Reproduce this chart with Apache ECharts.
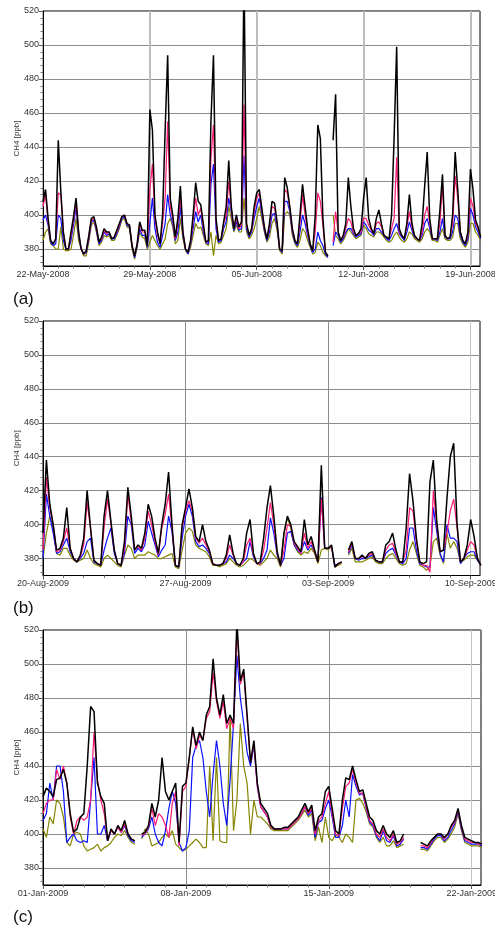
<!DOCTYPE html>
<html>
<head>
<meta charset="utf-8">
<script src="https://cdn.jsdelivr.net/npm/echarts@6/dist/echarts.min.js"></script>
<style>
  html, body { margin: 0; padding: 0; background: #fff; }
  #main { width: 495px; height: 929px; }
</style>
</head>
<body>
<div id="main"></div>
<script>
// Valores CH4 [ppb], un punto cada 4 horas desde la fecha de inicio de cada panel
const stepHours = 4;
const yTicks = [380, 400, 420, 440, 460, 480, 500, 520];

// ---- panel (a) ----
const aStart = "2008-05-22";
const aWeekTicks = ["2008-05-22", "2008-05-29", "2008-06-05", "2008-06-12", "2008-06-19"];
const aBlack = [
  408,415,398,385,383,386, 444,414,390,380,380,390, 399,410,390,380,377,379, 388,398,399,393,384,387,
  392,390,390,386,387,391, 395,399,400,395,394,382, 376,383,396,391,391,382, 462,450,400,390,383,400,
  450,494,410,400,387,398, 417,390,380,378,385,400, 419,408,406,395,384,385, 455,494,398,385,386,396,
  405,432,405,392,400,393, 396,545,395,388,392,405, 413,415,404,393,386,395, 408,407,396,380,379,422,
  416,405,392,385,383,400, 418,405,392,383,379,400, 453,445,398,378,376,null, 444,471,390,385,388,395,
  422,405,392,388,389,392, 410,422,398,392,389,398, 403,395,388,387,386,400, 446,499,392,388,386,395,
  412,395,388,386,385,395, 417,437,398,386,386,386, 403,424,388,386,387,400, 437,415,390,385,383,390,
  427,415,397,393,387
];
const aMagenta = [
  405,412,396,385,383,386, 413,412,390,380,380,388, 397,408,390,380,377,379, 387,397,398,392,384,386,
  391,389,390,386,387,390, 394,399,400,395,394,382, 376,383,395,390,390,382, 415,430,398,388,383,395,
  410,455,405,398,386,395, 410,390,380,378,384,397, 410,400,404,393,384,385, 433,453,396,385,386,395,
  400,420,404,392,398,392, 394,465,394,388,391,402, 410,413,403,392,386,393, 405,404,395,380,379,415,
  413,404,391,385,383,395, 412,400,390,383,379,390, 413,408,394,378,376,null, 384,402,390,385,387,392,
  398,396,390,388,389,390, 398,398,394,391,389,395, 396,393,388,387,386,392, 398,434,390,388,386,393,
  402,393,388,386,385,390, 400,405,395,386,386,386, 395,418,388,386,387,395, 423,410,390,385,383,388,
  410,405,395,392,387
];
const aBlue = [
  397,400,394,384,382,383, 400,398,385,380,380,385, 394,405,388,380,377,378, 386,396,397,391,383,385,
  390,388,389,386,386,389, 393,398,399,394,393,382, 375,382,392,388,388,381, 395,410,392,384,381,388,
  395,412,400,395,385,390, 405,388,380,377,383,392, 402,396,400,390,384,383, 418,430,392,384,385,392,
  396,410,402,391,396,391, 392,435,392,387,390,398, 405,410,401,391,385,390, 400,401,393,380,378,408,
  408,402,390,384,382,390, 400,395,388,382,378,380, 390,385,382,377,375,null, 382,390,388,384,386,390,
  392,392,389,387,388,389, 396,394,391,390,388,392, 392,390,388,386,385,388, 392,395,389,387,385,390,
  396,391,387,386,385,388, 395,398,392,386,386,385, 390,398,387,386,386,390, 400,398,388,384,382,386,
  404,400,393,390,386
];
const aOlive = [
  385,390,392,383,382,380, 380,393,380,379,379,380, 388,398,385,380,376,376, 384,394,396,390,382,384,
  388,387,388,385,385,388, 392,397,398,393,392,380, 374,381,390,387,386,380, 384,388,385,382,380,383,
  386,395,398,393,383,385, 398,386,379,377,381,388, 395,392,393,388,383,382, 390,376,388,383,384,388,
  392,405,398,390,394,390, 390,410,390,386,388,392, 398,405,398,390,384,387, 395,398,391,379,377,400,
  402,400,388,383,381,385, 392,390,385,381,377,378, 384,382,378,376,375,null, 400,388,386,383,385,388,
  392,390,388,386,387,388, 394,392,389,388,387,390, 390,389,387,385,384,385, 388,390,387,385,384,386,
  390,389,386,385,384,386, 390,392,390,385,385,384, 388,392,386,385,385,387, 395,395,386,383,381,384,
  395,395,390,388,385
];

// ---- panel (b) ----
const bStart = "2009-08-20";
const bWeekTicks = ["2009-08-20", "2009-08-27", "2009-09-03", "2009-09-10"];
const bBlack = [
  395,438,412,400,385,386, 392,410,386,380,378,382, 392,420,398,379,377,376, 405,420,402,385,377,376,
  390,422,405,385,388,386, 395,412,405,392,383,400, 412,431,400,376,375,400, 410,421,410,393,390,400,
  390,385,377,376,376,377, 382,394,383,377,376,380, 395,403,383,377,378,392, 410,423,405,384,376,395,
  405,400,390,387,384,403, 388,393,385,378,435,386, 386,388,375,377,378,null, 385,390,380,380,382,380,
  383,384,379,378,378,388, 390,395,385,378,378,398, 430,414,392,378,377,378, 425,438,402,384,385,415,
  440,448,400,378,380,388, 403,393,380,376
];
const bMagenta = [
  385,428,410,400,384,385, 390,398,386,380,378,381, 388,413,398,379,377,376, 398,415,401,385,377,376,
  386,418,402,385,387,385, 392,408,400,390,382,398, 406,418,398,376,375,398, 408,414,408,392,389,392,
  388,384,377,376,376,377, 380,388,382,377,376,378, 388,392,382,377,377,385, 398,413,400,383,376,385,
  400,399,389,386,383,395, 386,390,384,378,415,386, 386,387,375,377,378,null, 384,389,380,380,381,380,
  382,383,379,378,378,385, 388,389,383,378,378,385, 410,408,390,378,376,376, 372,420,400,384,385,395,
  408,415,398,378,380,385, 390,388,380,376
];
const bBlue = [
  380,418,405,395,383,384, 388,392,384,380,378,380, 383,390,392,378,377,376, 385,392,398,383,377,376,
  383,405,400,383,386,384, 388,402,395,388,381,385, 388,405,396,376,375,392, 405,412,405,390,387,388,
  386,383,377,376,376,377, 378,382,380,377,376,378, 380,390,381,377,377,380, 385,404,395,382,376,380,
  395,396,388,385,383,390, 385,388,384,378,416,386, 386,387,376,377,378,null, 383,388,380,379,380,380,
  381,382,379,378,378,383, 385,386,382,378,377,380, 398,398,385,377,376,375, 375,410,396,383,378,400,
  392,392,390,377,380,383, 384,384,379,376
];
const bOlive = [
  380,395,405,398,383,382, 386,386,382,379,378,379, 380,385,380,377,376,375, 380,382,380,378,376,375,
  382,388,386,380,382,382, 382,384,383,382,380,380, 381,382,383,375,374,385, 395,398,396,388,386,385,
  384,381,376,376,375,376, 377,380,378,376,375,376, 378,380,379,377,376,378, 380,385,382,380,375,395,
  404,398,388,384,382,384, 383,386,383,377,385,386, 385,387,375,376,377,null, 382,386,378,378,378,379,
  380,381,378,377,377,380, 382,383,380,377,376,377, 385,390,383,376,375,373, 375,390,392,382,377,395,
  386,390,386,378,379,381, 382,382,379,376
];

// ---- panel (c) ----
const cStart = "2009-01-01";
const cWeekTicks = ["2009-01-01", "2009-01-08", "2009-01-15", "2009-01-22"];
const cBlack = [
  422,427,425,422,432,433, 438,430,412,401,403,410, 412,440,475,472,430,422, 418,396,403,400,405,402,
  408,400,397,396,null,400, 401,405,418,410,420,445, 425,420,425,430,395,428, 430,445,463,452,460,455,
  470,475,503,480,470,482, 465,470,465,525,490,497, 470,442,455,430,418,415, 412,405,403,403,403,404,
  404,406,408,410,414,418, 413,417,402,410,412,425, 428,415,402,400,420,433, 432,440,432,425,426,418,
  410,408,402,400,405,400, 398,402,395,396,400,null, null,null,null,395,394,393, 396,398,400,400,398,400,
  405,408,415,405,398,397, 396,395,395,394
];
const cMagenta = [
  412,418,420,420,438,432, 440,430,410,400,408,410, 408,410,420,460,432,420, 412,396,402,400,404,401,
  406,400,397,396,null,399, 400,404,415,405,412,410, 405,398,418,425,393,425, 428,445,462,450,458,455,
  468,472,495,478,468,478, 462,468,462,520,488,495, 468,442,453,428,416,413, 410,404,403,403,403,403,
  403,405,407,409,412,416, 412,415,400,408,410,418, 425,412,400,399,415,428, 430,438,430,424,424,416,
  408,406,400,398,403,398, 396,400,394,395,398,null, null,null,null,393,393,392, 395,398,400,400,397,400,
  404,407,414,404,397,396, 395,395,394,394
];
const cBlue = [
  408,412,430,420,440,440, 425,395,398,400,396,395, 396,395,420,445,400,400, 405,396,402,400,404,401,
  405,399,396,395,null,398, 400,403,410,400,395,393, 402,415,425,418,395,390, 392,402,445,452,455,445,
  425,410,435,455,440,418, 405,432,465,505,480,465, 448,440,452,428,416,413, 410,404,403,403,403,403,
  403,405,407,409,412,416, 411,414,398,407,408,415, 420,410,398,398,405,420, 410,435,428,423,424,415,
  407,405,399,396,402,396, 395,399,393,394,397,null, null,null,null,392,392,391, 394,397,399,399,396,398,
  402,406,413,403,396,395, 394,394,394,393
];
const cOlive = [
  403,398,410,406,420,418, 410,395,393,400,401,400, 393,390,391,392,394,390, 392,393,395,398,400,399,
  402,398,395,394,null,397, 403,400,393,394,395,398, 400,398,402,394,392,390, 391,393,395,397,395,392,
  392,440,396,445,396,395, 395,470,402,420,465,440, 430,400,420,410,410,408, 406,403,402,402,402,402,
  402,404,406,408,411,414, 410,412,396,404,395,410, 398,396,400,398,395,400, 398,395,420,421,418,413,
  406,404,398,395,398,393, 393,396,392,393,394,null, null,null,null,391,391,390, 393,396,398,398,395,397,
  400,404,412,402,395,394, 393,393,393,392
];

const seriesColors = ["#858500", "#0a10ff", "#ff1a75", "#000000"];
const seriesWidths = [1.2, 1.2, 1.2, 1.5];
const HOUR = 3600000;
const DAY = 24 * HOUR;
const months = ["Jan","Feb","Mar","Apr","May","Jun","Jul","Aug","Sep","Oct","Nov","Dec"];

const toMs = (s) => {
  const p = s.split("-").map(Number);
  return Date.UTC(p[0], p[1] - 1, p[2]);
};
const fmtDate = (v) => {
  const d = new Date(v);
  return String(d.getUTCDate()).padStart(2, "0") + "-" + months[d.getUTCMonth()] + "-" + d.getUTCFullYear();
};
const toPairs = (start, vals) => vals.map((v, i) => [toMs(start) + i * stepHours * HOUR, v]);

// marcas menores: cada 4 ppb en Y
const yMinor = [];
for (let v = 372; v < 520; v += 4) if (yTicks.indexOf(v) < 0) yMinor.push(v);

const panels = [
  { label: "(a)", start: aStart, weeks: aWeekTicks, endHours: 28 * 24 + 15, top: 11, height: 255, right: 15,
    labelTop: 286, vColor: ["#bdbdbd"], vWidth: 2, data: [aOlive, aBlue, aMagenta, aBlack] },
  { label: "(b)", start: bStart, weeks: bWeekTicks, endHours: 21 * 24 + 11, top: 321, height: 254.5, right: 15,
    labelTop: 595, vColor: ["#8c8c8c", "#8c8c8c", "#8c8c8c", "#c4c4c4"], vWidth: 1, data: [bOlive, bBlue, bMagenta, bBlack] },
  { label: "(c)", start: cStart, weeks: cWeekTicks, endHours: 21 * 24 + 11, top: 630, height: 255, right: 14,
    labelTop: 904, vColor: ["#8c8c8c", "#8c8c8c", "#8c8c8c", "#c4c4c4"], vWidth: 1, data: [cOlive, cBlue, cMagenta, cBlack] },
];

const grid = [], xAxis = [], yAxis = [], series = [], title = [];
panels.forEach((p, i) => {
  const s0 = toMs(p.start);
  const max = s0 + p.endHours * HOUR;
  const weekMs = p.weeks.map(toMs);
  const dayMs = [];
  for (let t = s0; t <= max; t += DAY) if (weekMs.indexOf(t) < 0) dayMs.push(t);

  grid.push({ left: 43, right: p.right, top: p.top, height: p.height, show: true,
    outerBoundsMode: "none", containLabel: false,
    borderColor: "#000", borderWidth: 1, backgroundColor: "transparent" });
  title.push({ text: p.label, left: 8, top: p.labelTop,
    textStyle: { fontSize: 17, fontWeight: "normal", color: "#111", fontFamily: "Liberation Sans" } });

  // eje X principal (semanas)
  xAxis.push({ type: "value", gridIndex: i, min: s0, max: max,
    axisLine: { show: true, onZero: false, lineStyle: { color: "#000", width: 1 } },
    axisTick: { show: true, customValues: weekMs, length: 4, lineStyle: { color: "#555" } },
    axisLabel: { customValues: weekMs, formatter: fmtDate, fontSize: 9, color: "#333", margin: 4,
      fontFamily: "Liberation Sans" },
    splitLine: { show: true, lineStyle: { color: p.vColor, width: p.vWidth } } });
  // eje X secundario (días, solo marcas menores)
  xAxis.push({ type: "value", gridIndex: i, min: s0, max: max, position: "bottom",
    axisLine: { show: false },
    axisTick: { show: true, customValues: dayMs, length: 2.5, lineStyle: { color: "#777" } },
    axisLabel: { show: false }, splitLine: { show: false } });

  yAxis.push({ type: "value", gridIndex: i, min: 370, max: 520,
    name: "CH4 [ppb]", nameLocation: "middle", nameGap: 22, nameMoveOverlap: false,
    nameTextStyle: { fontSize: 8, color: "#333", fontFamily: "Liberation Sans" },
    axisLine: { show: true, onZero: false, lineStyle: { color: "#000", width: 1 } },
    axisTick: { show: true, customValues: yTicks, length: 4, lineStyle: { color: "#555" } },
    axisLabel: { customValues: yTicks, fontSize: 9, color: "#333", margin: 4, fontFamily: "Liberation Sans" },
    splitLine: { show: true, lineStyle: { color: "#8c8c8c", width: 1 } } });
  yAxis.push({ type: "value", gridIndex: i, min: 370, max: 520, position: "left",
    axisLine: { show: false },
    axisTick: { show: true, customValues: yMinor, length: 2.5, lineStyle: { color: "#777" } },
    axisLabel: { show: false }, splitLine: { show: false } });

  p.data.forEach((vals, k) => {
    series.push({ type: "line", xAxisIndex: 2 * i, yAxisIndex: 2 * i,
      data: toPairs(p.start, vals), showSymbol: false, connectNulls: false, clip: true,
      lineStyle: { color: seriesColors[k], width: seriesWidths[k] },
      itemStyle: { color: seriesColors[k] }, z: 2 + k });
  });
});

const myChart = echarts.init(document.getElementById("main"));
myChart.setOption({ animation: false, backgroundColor: "#fff", useUTC: true,
  title, grid, xAxis, yAxis, series });
</script>
</body>
</html>
